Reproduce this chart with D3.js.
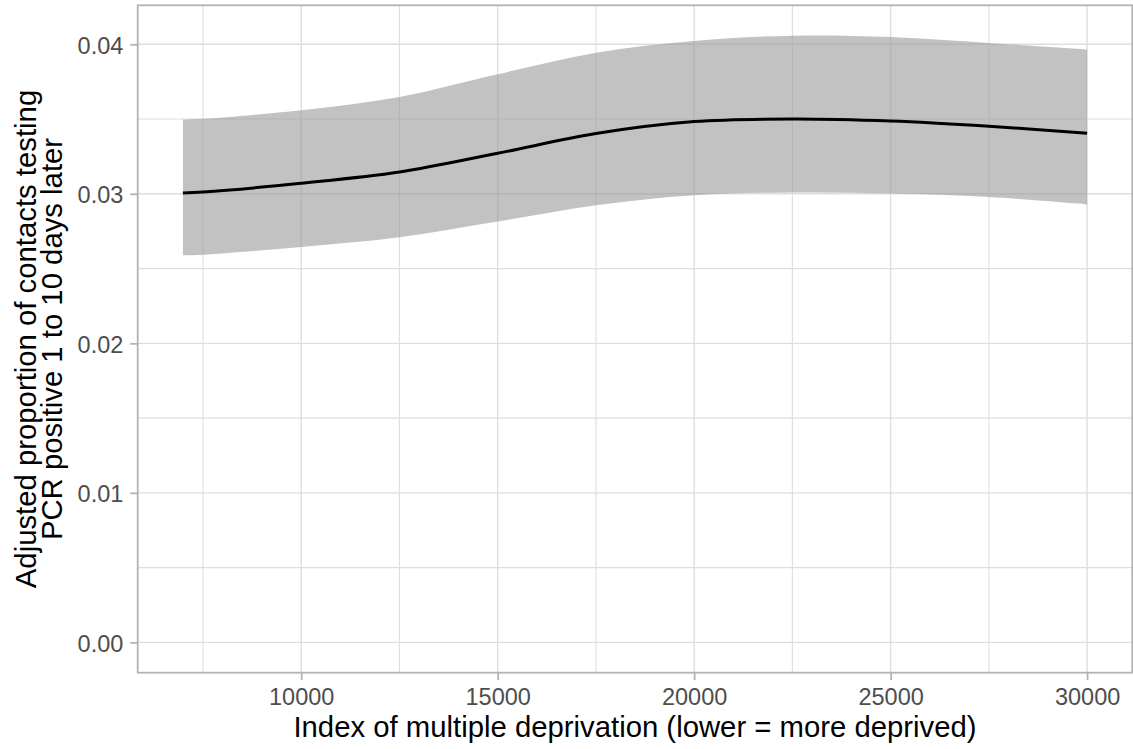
<!DOCTYPE html>
<html>
<head>
<meta charset="utf-8">
<script src="https://cdn.jsdelivr.net/npm/d3@7/dist/d3.min.js"></script>
<style>
  html, body { margin: 0; padding: 0; background: #ffffff; }
  svg { display: block; font-family: "Liberation Sans", Arial, Helvetica, sans-serif; }
</style>
</head>
<body>
<svg id="chart" width="1133" height="749"></svg>
<script>
// Index of multiple deprivation at which the smooth was evaluated
const imd = [6990, 7500, 10000, 12500, 15000, 17500, 20000, 22500, 25000, 27500, 30000];
// Fitted adjusted proportion of contacts testing positive
const fitted = [0.03006, 0.03012, 0.03071, 0.03146, 0.03271, 0.03403, 0.03483, 0.03501, 0.03487, 0.03452, 0.03405];
// Confidence band
const upper = [0.03497, 0.03502, 0.03559, 0.03648, 0.03800, 0.03944, 0.04022, 0.04058, 0.04049, 0.04009, 0.03965];
const lower = [0.02588, 0.02592, 0.02645, 0.02710, 0.02815, 0.02924, 0.02991, 0.03009, 0.03002, 0.02979, 0.02929];

// Axis ticks
const xTicks = [10000, 15000, 20000, 25000, 30000];
const xMinor = [7500, 12500, 17500, 22500, 27500];
const yTicks = [0.00, 0.01, 0.02, 0.03, 0.04];
const yMinor = [0.005, 0.015, 0.025, 0.035];

const xTitle = "Index of multiple deprivation (lower = more deprived)";
const yTitle = ["Adjusted proportion of contacts testing", "PCR positive 1 to 10 days later"];

const panel = { left: 137.7, right: 1132.3, top: 5.3, bottom: 672.7 };

const svg = d3.select("#chart");
svg.append("rect").attr("width", 1133).attr("height", 749).attr("fill", "#ffffff");

// 5% expansion on each side of the data range; y range includes zero
const xMin = d3.min(imd), xMax = d3.max(imd);
const xPad = (xMax - xMin) * 0.05;
const x = d3.scaleLinear()
  .domain([xMin - xPad, xMax + xPad])
  .range([panel.left, panel.right]);

const yLo = 0, yHi = d3.max(upper);
const yPad = (yHi - yLo) * 0.05;
const y = d3.scaleLinear()
  .domain([yLo - yPad, yHi + yPad])
  .range([panel.bottom, panel.top]);

const gridColor = "#dedede";

// Grid lines
const grid = svg.append("g");
grid.selectAll(".ymin").data(yMinor).join("line")
  .attr("x1", panel.left).attr("x2", panel.right)
  .attr("y1", d => y(d)).attr("y2", d => y(d))
  .attr("stroke", gridColor).attr("stroke-width", 1.1);
grid.selectAll(".xmin").data(xMinor).join("line")
  .attr("y1", panel.top).attr("y2", panel.bottom)
  .attr("x1", d => x(d)).attr("x2", d => x(d))
  .attr("stroke", gridColor).attr("stroke-width", 1.1);
grid.selectAll(".ymaj").data(yTicks).join("line")
  .attr("x1", panel.left).attr("x2", panel.right)
  .attr("y1", d => y(d)).attr("y2", d => y(d))
  .attr("stroke", gridColor).attr("stroke-width", 1.4);
grid.selectAll(".xmaj").data(xTicks).join("line")
  .attr("y1", panel.top).attr("y2", panel.bottom)
  .attr("x1", d => x(d)).attr("x2", d => x(d))
  .attr("stroke", gridColor).attr("stroke-width", 1.4);

const rows = imd.map((v, i) => ({ x: v, fit: fitted[i], lo: lower[i], hi: upper[i] }));
const curve = d3.curveCatmullRom.alpha(0.5);

// Confidence ribbon
svg.append("path")
  .datum(rows)
  .attr("d", d3.area().curve(curve)
    .x(d => x(d.x)).y0(d => y(d.lo)).y1(d => y(d.hi)))
  .attr("fill", "#999999").attr("fill-opacity", 0.6);

// Fitted curve
svg.append("path")
  .datum(rows)
  .attr("d", d3.line().curve(curve).x(d => x(d.x)).y(d => y(d.fit)))
  .attr("fill", "none").attr("stroke", "#000000").attr("stroke-width", 3);

// Panel border
svg.append("rect")
  .attr("x", panel.left).attr("y", panel.top)
  .attr("width", panel.right - panel.left).attr("height", panel.bottom - panel.top)
  .attr("fill", "none").attr("stroke", "#b3b3b3").attr("stroke-width", 1.8);

// Axes
const xAxis = d3.axisBottom(x).tickValues(xTicks).tickFormat(d3.format("d"))
  .tickSizeInner(7.5).tickSizeOuter(0).tickPadding(8);
const gx = svg.append("g").attr("transform", `translate(0,${panel.bottom})`).call(xAxis);
gx.select(".domain").remove();
gx.selectAll(".tick line").attr("stroke", "#b3b3b3").attr("stroke-width", 1.8);
gx.selectAll(".tick text").attr("fill", "#4d4d4d").attr("font-size", 23.5)
  .attr("font-family", null).attr("dy", null).attr("y", 32.3);

const yAxis = d3.axisLeft(y).tickValues(yTicks).tickFormat(d3.format(".2f"))
  .tickSizeInner(7.5).tickSizeOuter(0).tickPadding(6.5);
const gy = svg.append("g").attr("transform", `translate(${panel.left},0)`).call(yAxis);
gy.select(".domain").remove();
gy.selectAll(".tick line").attr("stroke", "#b3b3b3").attr("stroke-width", 1.8);
gy.selectAll(".tick text").attr("fill", "#4d4d4d").attr("font-size", 23.5)
  .attr("font-family", null).attr("dy", "0.38em").attr("x", -14.4);
svg.selectAll(".tick text").style("font-family", "inherit");

// Axis titles
svg.append("text")
  .attr("x", (panel.left + panel.right) / 2).attr("y", 736.7)
  .attr("text-anchor", "middle").attr("font-size", 29.3).attr("fill", "#000000")
  .text(xTitle);

const yt = svg.append("text")
  .attr("transform", `translate(0,${(panel.top + panel.bottom) / 2}) rotate(-90)`)
  .attr("text-anchor", "middle").attr("font-size", 29.3).attr("fill", "#000000");
yt.selectAll("tspan").data(yTitle).join("tspan")
  .attr("x", 0).attr("y", (d, i) => 35.6 + i * 26.6)
  .text(d => d);
</script>
</body>
</html>
